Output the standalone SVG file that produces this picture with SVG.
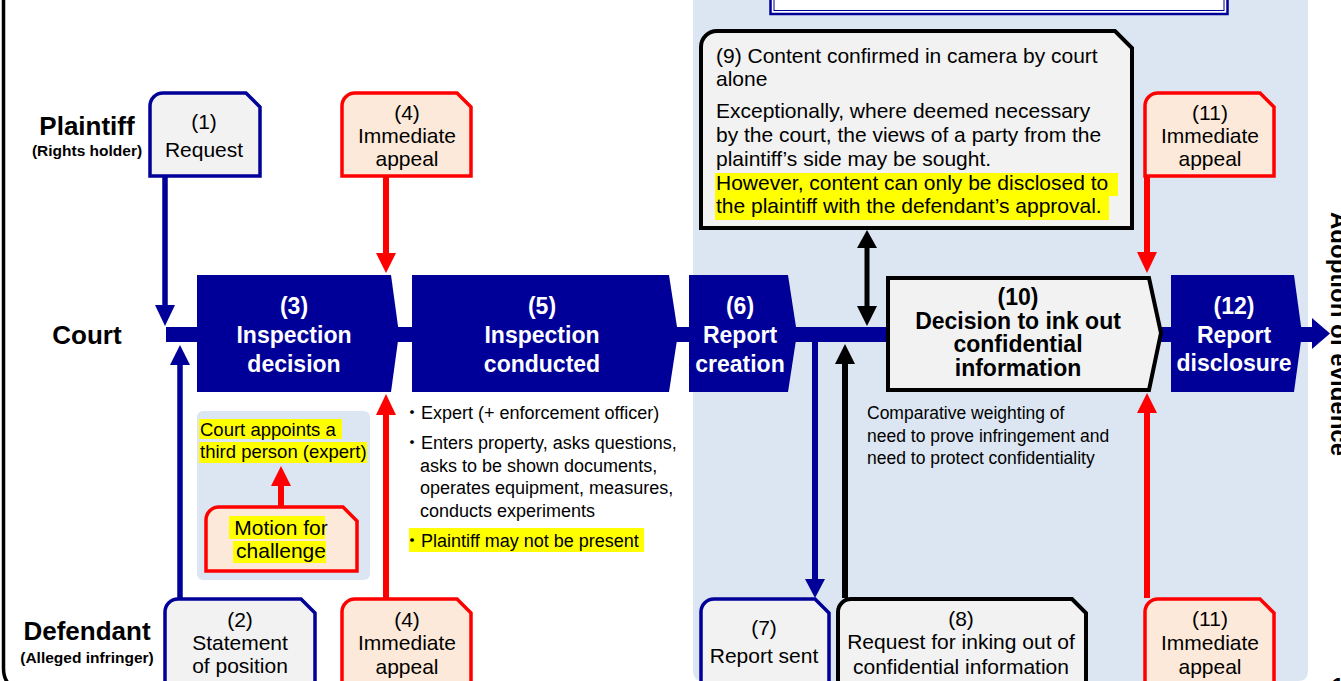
<svg xmlns="http://www.w3.org/2000/svg" width="1341" height="681" viewBox="0 0 1341 681">
<style>
text{font-family:"Liberation Sans",Arial,"Noto Sans CJK JP",sans-serif;fill:#000}
.lbl{font-weight:bold;font-size:26px;text-anchor:middle}
.sub{font-weight:bold;font-size:15.5px;text-anchor:middle}
.bw{font-weight:bold;font-size:23px;text-anchor:middle;fill:#fff}
.bb{font-weight:bold;font-size:23px;text-anchor:middle}
.bx{font-size:21px;text-anchor:middle}
.nt{font-size:18px}
.cm{font-size:17.5px}
.p9{font-size:21px}
.nvf{fill:#000099}
.blu{fill:#f2f2f2;stroke:#000099;stroke-width:3.5}
.red{fill:#fde9d9;stroke:#ff0000;stroke-width:3.5}
.blk{fill:#f2f2f2;stroke:#000;stroke-width:4}
.hl{fill:#ffff00}
.ln-b{stroke:#000099;stroke-width:6;fill:none}
.ln-r{stroke:#ff0000;stroke-width:6;fill:none}
.ln-k{stroke:#000;stroke-width:6;fill:none}
</style>
<rect width="1341" height="681" fill="#fff"/>
<!-- background areas -->
<path d="M693,0 H1308 V671 Q1308,681 1298,681 H703 Q693,681 693,671 Z" fill="#dce6f2"/>
<path d="M3.5,0 V668 Q3.5,679 9,684" fill="none" stroke="#000" stroke-width="3.5"/>
<rect x="770.5" y="-10" width="457" height="24" fill="#fff" stroke="#000099" stroke-width="2.5"/>
<rect x="774" y="-10" width="450" height="20.5" fill="none" stroke="#000099" stroke-width="1"/>
<rect x="197" y="411" width="173" height="169" rx="6" fill="#dce6f2"/>

<!-- lane labels -->
<g id="lane-plaintiff">
<text class="lbl" x="87" y="135">Plaintiff</text>
<text class="sub" x="87" y="156">(Rights holder)</text>
</g>
<g id="lane-court"><text class="lbl" x="87" y="344">Court</text></g>
<g id="lane-defendant">
<text class="lbl" x="87" y="640">Defendant</text>
<text class="sub" x="87" y="663">(Alleged infringer)</text>
</g>

<!-- connectors -->
<g id="connectors">
<rect x="166" y="327" width="1148" height="15" class="nvf"/>
<polygon points="1312,318 1330,333.5 1312,349" class="nvf"/>
<line x1="165" y1="177" x2="165" y2="307" class="ln-b" style="stroke-width:5.5"/>
<polygon points="155,305 175,305 165,326" class="nvf"/>
<line x1="180" y1="598" x2="180" y2="363" class="ln-b" style="stroke-width:5.5"/>
<polygon points="170,365 190,365 180,345" class="nvf"/>
<line x1="386" y1="177" x2="386" y2="255" class="ln-r"/>
<polygon points="376,253 396,253 386,273" fill="#ff0000"/>
<line x1="386" y1="598" x2="386" y2="413" class="ln-r"/>
<polygon points="376,415 396,415 386,394" fill="#ff0000"/>
<line x1="281" y1="507" x2="281" y2="484" class="ln-r"/>
<polygon points="271,486 291,486 281,466" fill="#ff0000"/>
<line x1="867" y1="246" x2="867" y2="308" class="ln-k" style="stroke-width:5"/>
<polygon points="857,248 877,248 867,230" fill="#000"/>
<polygon points="857,306 877,306 867,326" fill="#000"/>
<line x1="845" y1="598" x2="845" y2="362" class="ln-k"/>
<polygon points="835,364 855,364 845,344" fill="#000"/>
<line x1="815" y1="340" x2="815" y2="581" class="ln-b"/>
<polygon points="805,579 825,579 815,598" class="nvf"/>
<line x1="1147" y1="177" x2="1147" y2="254" class="ln-r"/>
<polygon points="1137,252 1157,252 1147,273" fill="#ff0000"/>
<line x1="1147" y1="598" x2="1147" y2="412" class="ln-r"/>
<polygon points="1137,413 1157,413 1147,393" fill="#ff0000"/>
</g>

<!-- nodes -->
<g id="n1">
<path d="M150,176 V106 A13,13 0 0 1 163,93 H246 L260,107 V176 Z" class="blu"/>
<text class="bx" x="204" y="129">(1)</text>
<text class="bx" x="204" y="157">Request</text>
</g>
<g id="n4top">
<path d="M342,176 V106 A13,13 0 0 1 355,93 H457 L471,107 V176 Z" class="red"/>
<text class="bx" x="407" y="120">(4)</text>
<text class="bx" x="407" y="143">Immediate</text>
<text class="bx" x="407" y="166">appeal</text>
</g>
<g id="n3">
<path d="M197,275 H391 L399,333.5 L391,392 H197 Z" class="nvf"/>
<text class="bw" x="294" y="314">(3)</text>
<text class="bw" x="294" y="343">Inspection</text>
<text class="bw" x="294" y="372">decision</text>
</g>
<g id="n5">
<path d="M412,275 H669 L678,333.5 L669,392 H412 Z" class="nvf"/>
<text class="bw" x="542" y="314">(5)</text>
<text class="bw" x="542" y="343">Inspection</text>
<text class="bw" x="542" y="372">conducted</text>
</g>
<g id="n6">
<path d="M689,275 H788 L797,333.5 L788,392 H689 Z" class="nvf"/>
<text class="bw" x="740" y="314">(6)</text>
<text class="bw" x="740" y="343">Report</text>
<text class="bw" x="740" y="372">creation</text>
</g>
<g id="n10">
<path d="M888,278 H1149 L1161,333 L1149,390 H888 Z" class="blk"/>
<text class="bb" x="1018" y="305">(10)</text>
<text class="bb" x="1018" y="329">Decision to ink out</text>
<text class="bb" x="1018" y="352">confidential</text>
<text class="bb" x="1018" y="376">information</text>
</g>
<g id="n12">
<path d="M1171,275 H1294 L1302,333.5 L1294,392 H1171 Z" class="nvf"/>
<text class="bw" x="1234" y="314">(12)</text>
<text class="bw" x="1234" y="343">Report</text>
<text class="bw" x="1234" y="371">disclosure</text>
</g>
<g id="n9">
<path d="M701,228 V47 A16,16 0 0 1 717,31 H1115 L1132,48 V228 Z" class="blk"/>
<rect x="715" y="173" width="403" height="23" class="hl"/>
<rect x="715" y="196" width="394" height="24" class="hl"/>
<text class="p9" x="716" y="63">(9) Content confirmed in camera by court</text>
<text class="p9" x="716" y="86">alone</text>
<text class="p9" x="716" y="118">Exceptionally, where deemed necessary</text>
<text class="p9" x="716" y="142">by the court, the views of a party from the</text>
<text class="p9" x="716" y="166">plaintiff’s side may be sought.</text>
<text class="p9" x="716" y="190">However, content can only be disclosed to</text>
<text class="p9" x="716" y="213">the plaintiff with the defendant’s approval.</text>
</g>
<g id="n11top">
<path d="M1145,176 V106 A13,13 0 0 1 1158,93 H1260 L1274,107 V176 Z" class="red"/>
<text class="bx" x="1210" y="120">(11)</text>
<text class="bx" x="1210" y="143">Immediate</text>
<text class="bx" x="1210" y="166">appeal</text>
</g>
<g id="n-expert">
<rect x="199" y="419" width="143" height="20" class="hl"/>
<rect x="199" y="442" width="168" height="21" class="hl"/>
<text class="nt" x="200" y="436" style="font-size:18.5px">Court appoints a</text>
<text class="nt" x="200" y="458" style="font-size:18.5px">third person (expert)</text>
</g>
<g id="n-motion">
<path d="M206,571 V520 A13,13 0 0 1 219,507 H343 L357,521 V571 Z" class="red"/>
<rect x="229" y="516" width="96" height="23" class="hl"/>
<rect x="233" y="541" width="93" height="22" class="hl"/>
<text class="bx" x="281" y="535">Motion for</text>
<text class="bx" x="281" y="558">challenge</text>
</g>
<g id="n-inspection-notes">
<rect x="409" y="528" width="235" height="24" class="hl"/>
<text class="nt" x="403" y="419">・Expert (+ enforcement officer)</text>
<text class="nt" x="403" y="449">・Enters property, asks questions,</text>
<text class="nt" x="420" y="472">asks to be shown documents,</text>
<text class="nt" x="420" y="494">operates equipment, measures,</text>
<text class="nt" x="420" y="517">conducts experiments</text>
<text class="nt" x="403" y="547">・Plaintiff may not be present</text>
</g>
<g id="n-weighting">
<text class="cm" x="867" y="419">Comparative weighting of</text>
<text class="cm" x="867" y="442">need to prove infringement and</text>
<text class="cm" x="867" y="464">need to protect confidentiality</text>
</g>
<g id="n2">
<path d="M165,700 V612 A13,13 0 0 1 178,599 H301 L315,613 V700 Z" class="blu"/>
<text class="bx" x="240" y="627">(2)</text>
<text class="bx" x="240" y="650">Statement</text>
<text class="bx" x="240" y="673">of position</text>
</g>
<g id="n4bottom">
<path d="M342,700 V612 A13,13 0 0 1 355,599 H457 L471,613 V700 Z" class="red"/>
<text class="bx" x="407" y="627">(4)</text>
<text class="bx" x="407" y="650">Immediate</text>
<text class="bx" x="407" y="674">appeal</text>
</g>
<g id="n7">
<path d="M701,700 V612 A13,13 0 0 1 714,599 H815 L829,613 V700 Z" class="blu"/>
<text class="bx" x="764" y="635">(7)</text>
<text class="bx" x="764" y="663">Report sent</text>
</g>
<g id="n8">
<path d="M838,700 V612 A13,13 0 0 1 851,599 H1072 L1086,613 V700 Z" class="blk"/>
<text class="bx" x="961" y="626">(8)</text>
<text class="bx" x="961" y="649">Request for inking out of</text>
<text class="bx" x="961" y="674">confidential information</text>
</g>
<g id="n11bottom">
<path d="M1145,700 V612 A13,13 0 0 1 1158,599 H1260 L1274,613 V700 Z" class="red"/>
<text class="bx" x="1210" y="626">(11)</text>
<text class="bx" x="1210" y="650">Immediate</text>
<text class="bx" x="1210" y="674">appeal</text>
</g>
<g id="n-adoption">
<text transform="translate(1331,212) rotate(90)" style="font-weight:bold;font-size:24px">Adoption of evidence</text>
</g>
<text x="1332" y="692" style="font-weight:bold;font-size:21px">1</text>
</svg>
